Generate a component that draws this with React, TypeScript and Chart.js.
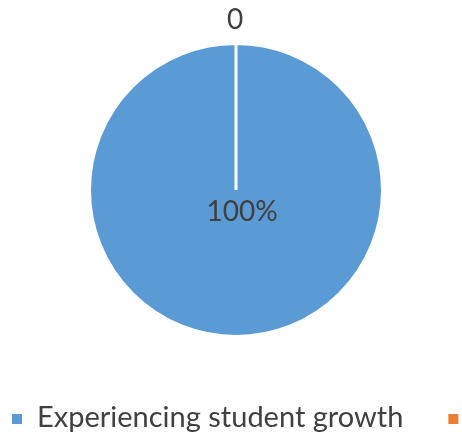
import React, { useEffect, useRef } from "react";
import { Chart, registerables } from "chart.js";

Chart.register(...registerables);

const categories = ["Experiencing student growth", ""];
const values = [100, 0];
const dataLabels = ["100%", "0"];
const colors = ["#5B9BD5", "#ED7D31"];

const FONT = "Lato, 'Liberation Sans', sans-serif";
const TEXT_COLOR = "#404040";

const labelPlugin = {
  id: "sliceLabels",
  afterDatasetsDraw(chart: any) {
    const ctx = chart.ctx;
    const meta = chart.getDatasetMeta(0);
    ctx.save();
    ctx.fillStyle = TEXT_COLOR;
    ctx.textAlign = "center";
    ctx.textBaseline = "middle";
    ctx.font = `28px ${FONT}`;
    meta.data.forEach((arc: any, i: number) => {
      const p = arc.getProps(["x", "y", "startAngle", "endAngle", "outerRadius"], true);
      const sweep = p.endAngle - p.startAngle;
      const mid = (p.startAngle + p.endAngle) / 2;
      if (sweep >= Math.PI * 2 - 1e-6) {
        ctx.fillText(dataLabels[i], p.x + 6 + Math.cos(mid) * 22, p.y + Math.sin(mid) * 22);
      } else {
        const d = p.outerRadius + 24;
        ctx.fillText(dataLabels[i], p.x - 1 + Math.cos(mid) * d, p.y + Math.sin(mid) * d);
      }
    });
    ctx.restore();
  },
};

const legendPlugin = {
  id: "bottomLegend",
  afterDraw(chart: any) {
    const ctx = chart.ctx;
    ctx.save();
    ctx.font = `29px ${FONT}`;
    ctx.textBaseline = "alphabetic";
    ctx.textAlign = "left";
    let x = 12;
    const boxTop = 414;
    categories.forEach((c, i) => {
      ctx.fillStyle = colors[i];
      ctx.fillRect(x, boxTop, 10, 10);
      ctx.fillStyle = TEXT_COLOR;
      ctx.fillText(c, x + 25, boxTop + 13);
      x += 25 + ctx.measureText(c).width + 45;
    });
    ctx.restore();
  },
};

export default function App() {
  const ref = useRef<HTMLCanvasElement | null>(null);
  useEffect(() => {
    document.body.style.margin = "0";
    const chart = new Chart(ref.current as HTMLCanvasElement, {
      type: "pie",
      data: {
        labels: categories,
        datasets: [
          {
            data: values,
            backgroundColor: colors,
            borderColor: "#FFFFFF",
            borderWidth: 3,
          },
        ],
      },
      options: {
        animation: false,
        responsive: false,
        maintainAspectRatio: false,
        events: [],
        layout: { padding: { top: 42, bottom: 96, left: 88, right: 78 } },
        plugins: {
          legend: { display: false },
          tooltip: { enabled: false },
        },
      },
      plugins: [labelPlugin, legendPlugin],
    });
    return () => chart.destroy();
  }, []);
  return (
    <div style={{ width: 462, height: 434 }}>
      <canvas ref={ref} width={462} height={434} />
    </div>
  );
}
